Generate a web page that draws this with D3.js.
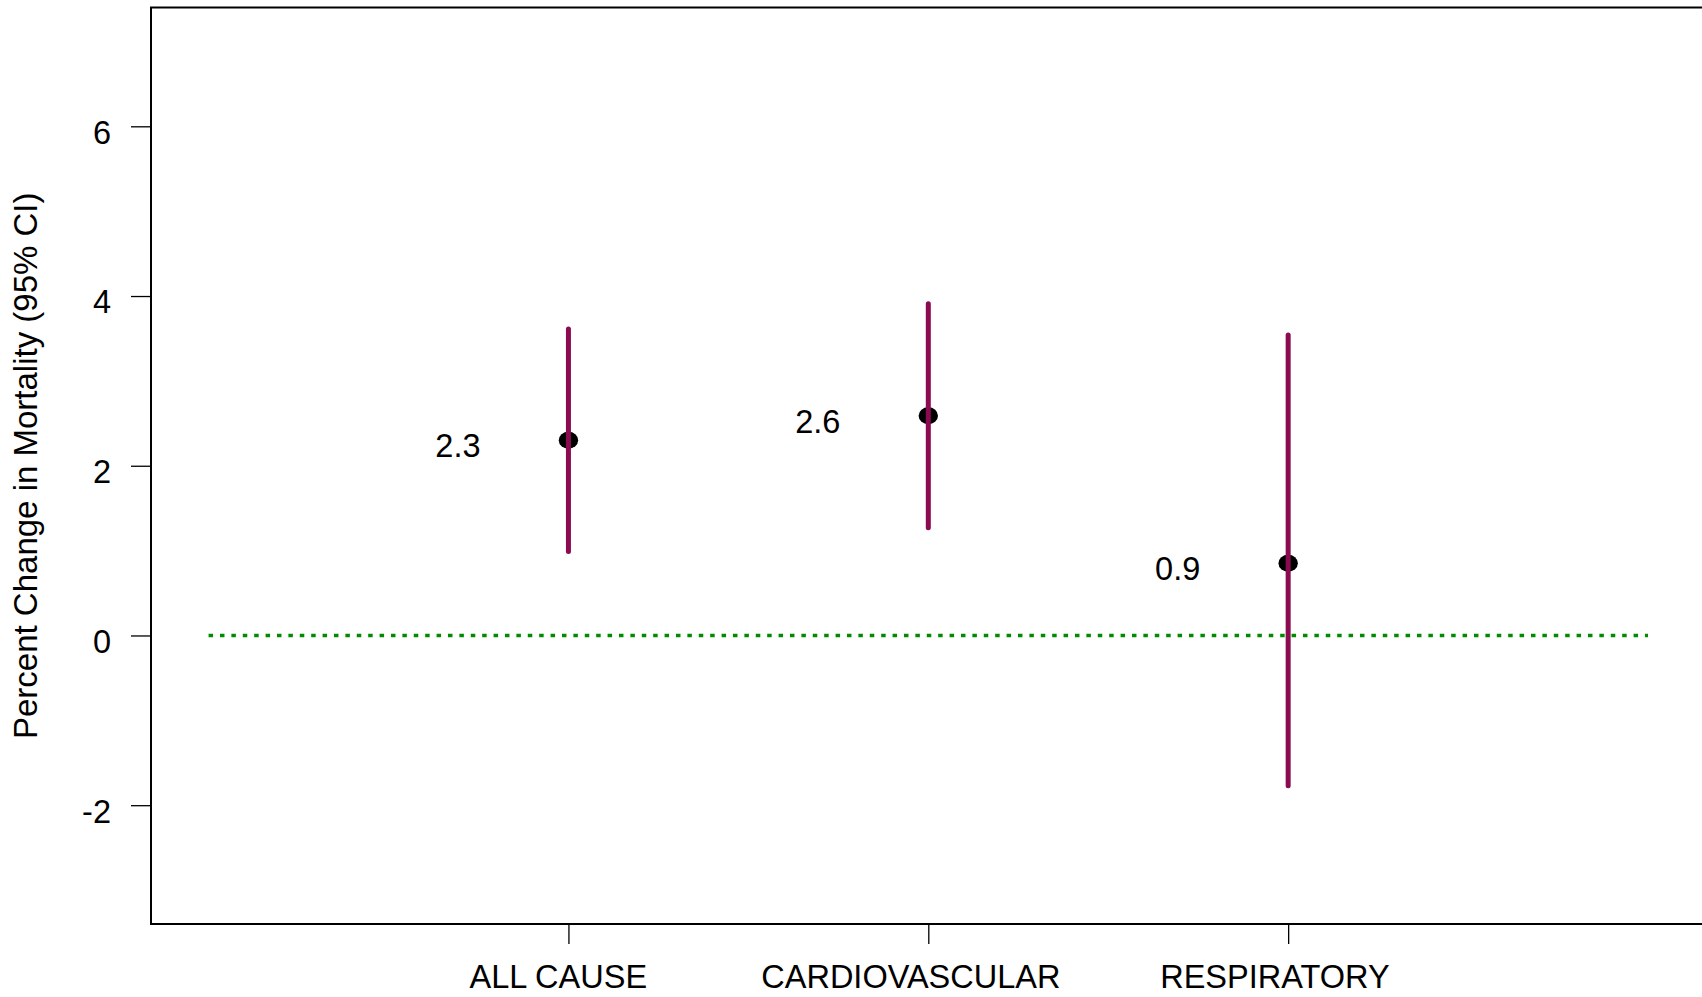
<!DOCTYPE html>
<html>
<head>
<meta charset="utf-8">
<script src="https://cdn.jsdelivr.net/npm/d3@7"></script>
<style>
  body { margin: 0; background: #fff; }
  text { font-family: "Liberation Sans", Arial, Helvetica, sans-serif; fill: #000; }
</style>
</head>
<body>
<script>
// categories and estimates
var categories = ["ALL CAUSE", "CARDIOVASCULAR", "RESPIRATORY"];
var estimates = [2.30, 2.59, 0.85];
var lowerCI = [0.99, 1.27, -1.77];
var upperCI = [3.61, 3.91, 3.54];
var estLabels = ["2.3", "2.6", "0.9"];
var yTicks = [-2, 0, 2, 4, 6];

var width = 1702, height = 997;
var fontSize = 32.5;

var rows = categories.map(function(c, i) {
  return {pos: i + 1, name: c, est: estimates[i], lo: lowerCI[i], hi: upperCI[i], label: estLabels[i]};
});

var svg = d3.select("body").append("svg")
    .attr("width", width)
    .attr("height", height);

// xlim 0..4, ylim -3..7, with R's 4% padding
var x = d3.scaleLinear().domain([-0.16, 4.16]).range([151, 1705.6]);
var y = d3.scaleLinear().domain([-3.4, 7.4]).range([924, 7.5]);

// reference line at zero
svg.append("line")
    .attr("x1", x(0)).attr("x2", x(4))
    .attr("y1", y(0)).attr("y2", y(0))
    .style("stroke", "#008b00")
    .style("stroke-width", 3.5)
    .style("stroke-dasharray", "4.5 6.9");

// point estimates
svg.append("g").selectAll("ellipse")
    .data(rows)
  .enter().append("ellipse")
    .attr("cx", function(d) { return x(d.pos); })
    .attr("cy", function(d) { return y(d.est); })
    .attr("rx", 9.7)
    .attr("ry", 8.5)
    .style("fill", "#000");

// confidence intervals
svg.append("g").selectAll("line")
    .data(rows)
  .enter().append("line")
    .attr("x1", function(d) { return x(d.pos); })
    .attr("x2", function(d) { return x(d.pos); })
    .attr("y1", function(d) { return y(d.lo); })
    .attr("y2", function(d) { return y(d.hi); })
    .style("stroke", "#8b0a50")
    .style("stroke-width", 5)
    .style("stroke-linecap", "round");

// value labels to the left of each point
svg.append("g").selectAll("text")
    .data(rows)
  .enter().append("text")
    .attr("x", function(d) { return x(d.pos - 0.307); })
    .attr("y", function(d) { return y(d.est); })
    .attr("dy", "0.52em")
    .attr("text-anchor", "middle")
    .style("font-size", fontSize + "px")
    .text(function(d) { return d.label; });

// axes
var yaxis = d3.axisLeft(y).tickValues(yTicks).tickFormat(String)
    .tickSize(20).tickSizeOuter(0).tickPadding(20);
var gy = svg.append("g").attr("transform", "translate(" + x.range()[0] + ",0)").call(yaxis);
gy.select(".domain").remove();
gy.selectAll("line").style("stroke", "#000").style("stroke-width", 1.3);
gy.selectAll("text").attr("dy", "0.52em").style("font-size", fontSize + "px").attr("font-family", null);

var xaxis = d3.axisBottom(x).tickValues([1, 2, 3])
    .tickFormat(function(d) { return categories[d - 1]; })
    .tickSize(20).tickSizeOuter(0).tickPadding(21);
var gx = svg.append("g").attr("transform", "translate(0," + y.range()[0] + ")").call(xaxis);
gx.select(".domain").remove();
gx.selectAll("line").style("stroke", "#000").style("stroke-width", 1.3);
gx.selectAll("text")
    .style("font-size", fontSize + "px")
    .attr("font-family", null)
    .attr("dx", function() { return -0.06 * this.getComputedTextLength(); });

// plot box
svg.append("rect")
    .attr("x", x.range()[0])
    .attr("y", y.range()[1])
    .attr("width", x.range()[1] - x.range()[0])
    .attr("height", y.range()[0] - y.range()[1])
    .style("fill", "none")
    .style("stroke", "#000")
    .style("stroke-width", 2);

// y axis title
svg.append("text")
    .attr("transform", "translate(37," + ((y.range()[0] + y.range()[1]) / 2) + ") rotate(-90)")
    .attr("text-anchor", "middle")
    .style("font-size", "33px")
    .text("Percent Change in Mortality (95% CI)");
</script>
</body>
</html>
